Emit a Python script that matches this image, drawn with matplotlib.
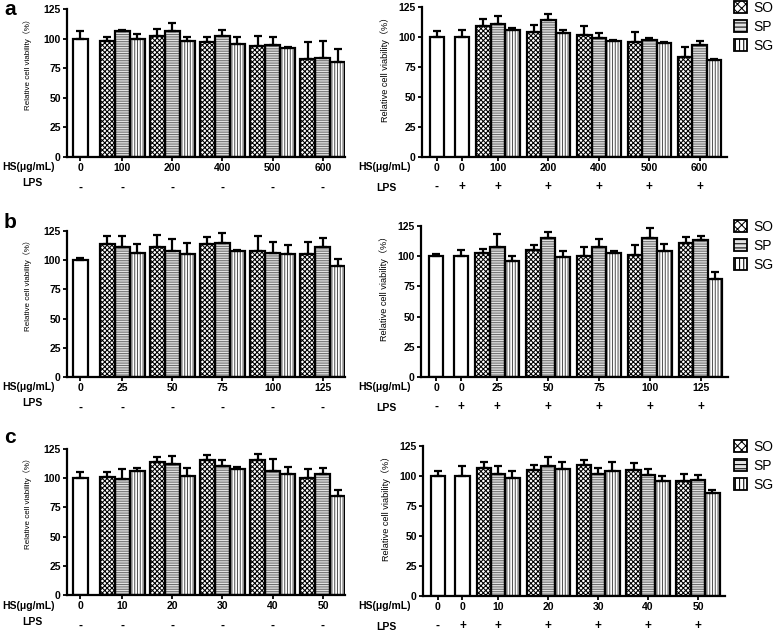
import matplotlib
matplotlib.use("Agg")
import matplotlib.pyplot as plt
from matplotlib.patches import Patch
import numpy as np

plt.rcParams["font.family"] = ["Liberation Sans", "Noto Sans CJK SC", "DejaVu Sans"]
plt.rcParams["hatch.linewidth"] = 0.75

W, H = 778, 632

# ---- data ----
# panel a
a_left_doses = ["0", "100", "200", "400", "500", "600"]
a_left_ctrl = [100]
a_left_ctrl_err = [6]
a_left_so = [98, 102, 97, 94, 83]
a_left_so_err = [3.5, 6, 4, 8, 14]
a_left_sp = [106, 106.5, 102.5, 95, 84]
a_left_sp_err = [1, 7, 5, 6, 14]
a_left_sg = [100, 98, 95.5, 92, 80]
a_left_sg_err = [4, 3.5, 5.5, 0.5, 11]

a_right_doses = ["0", "0", "100", "200", "400", "500", "600"]
a_right_ctrl = [100, 100]
a_right_ctrl_err = [5, 6]
a_right_so = [109, 104, 102, 96, 83]
a_right_so_err = [6, 6, 7.5, 8.5, 9]
a_right_sp = [111, 114, 99, 97.5, 93]
a_right_sp_err = [6.5, 5, 4, 1.5, 4]
a_right_sg = [106, 103, 96.5, 95, 80.5]
a_right_sg_err = [1.5, 3, 1, 1, 1.5]

# panel b
b_left_doses = ["0", "25", "50", "75", "100", "125"]
b_left_ctrl = [100]
b_left_ctrl_err = [2]
b_left_so = [114, 111, 114, 108, 105]
b_left_so_err = [7, 11, 6, 12.5, 11]
b_left_sp = [111, 107.5, 115, 106, 111]
b_left_sp_err = [10, 11, 8.5, 10, 8]
b_left_sg = [106, 105, 108, 105, 95]
b_left_sg_err = [8, 10, 1, 8, 6]

b_right_doses = ["0", "0", "25", "50", "75", "100", "125"]
b_right_ctrl = [100, 100]
b_right_ctrl_err = [2, 5.5]
b_right_so = [103, 105, 100, 101, 111]
b_right_so_err = [3, 4.5, 8, 8, 5]
b_right_sp = [108, 115, 108, 115, 113]
b_right_sp_err = [10, 5, 6, 8, 4]
b_right_sg = [96, 99, 102.5, 104, 81]
b_right_sg_err = [4, 5, 1.5, 6, 6]

# panel c
c_left_doses = ["0", "10", "20", "30", "40", "50"]
c_left_ctrl = [100]
c_left_ctrl_err = [5]
c_left_so = [101, 114, 115.5, 115.5, 100]
c_left_so_err = [4, 4, 4.5, 5.5, 8]
c_left_sp = [99.5, 112, 110.5, 106.5, 104]
c_left_sp_err = [8, 7, 5, 10, 5]
c_left_sg = [106, 102, 107.5, 104, 85]
c_left_sg_err = [3, 6.5, 2, 6, 5]

c_right_doses = ["0", "0", "10", "20", "30", "40", "50"]
c_right_ctrl = [100, 100]
c_right_ctrl_err = [4, 8]
c_right_so = [107, 105, 109, 105, 96]
c_right_so_err = [4.5, 4.5, 4.5, 5.5, 6]
c_right_sp = [102, 108, 102, 101, 97]
c_right_sp_err = [6, 8, 5, 5, 4]
c_right_sg = [98, 106, 104, 96, 86]
c_right_sg_err = [6, 6, 8, 4, 2]

left_lps = ["-", "-", "-", "-", "-", "-"]
right_lps = ["-", "+", "+", "+", "+", "+", "+"]

SERIES = ["SO", "SP", "SG"]
STYLE = {
    "SO": dict(face="white", hatch="xxxxxxx", hcol="black"),
    "SP": dict(face="#e2e2e2", hatch="-------", hcol="#6e6e6e"),
    "SG": dict(face="white", hatch="||||||", hcol="#555555"),
}


def px_rect(x0, x1, top, bottom):
    return [x0 / W, 1 - bottom / H, (x1 - x0) / W, (bottom - top) / H]


def draw_panel(fig, rect, doses, ctrl, ctrl_err, groups, lps, ctrl_pos, g0, gstep,
               xlim, ylabel_size, ylabel_xy, lps_off):
    ax = fig.add_axes(rect)
    n_ctrl = len(ctrl)
    centers = list(ctrl_pos) + [g0 + gstep * k for k in range(len(groups[0][0]))]

    # control bars (white)
    ax.bar(ctrl_pos, ctrl, width=1.0, facecolor="white", edgecolor="black", linewidth=1.6, zorder=2)
    ax.errorbar(ctrl_pos, ctrl, yerr=[np.zeros(n_ctrl), ctrl_err], fmt="none", ecolor="black",
                elinewidth=1.6, capsize=3, capthick=1.6, zorder=3)

    for i, (name, (vals, errs)) in enumerate(zip(SERIES, groups)):
        xs = np.array(centers[n_ctrl:]) + (i - 1)
        st = STYLE[name]
        ax.bar(xs, vals, width=1.0, facecolor=st["face"], hatch=st["hatch"],
               edgecolor=st["hcol"], linewidth=0, zorder=2)
        ax.bar(xs, vals, width=1.0, fill=False, edgecolor="black", linewidth=1.6, zorder=2.5)
        ax.errorbar(xs, vals, yerr=[np.zeros(len(vals)), errs], fmt="none", ecolor="black",
                    elinewidth=1.6, capsize=3, capthick=1.6, zorder=3)

    ax.set_ylim(0, 125)
    ax.set_xlim(*xlim)
    ax.set_yticks([0, 25, 50, 75, 100, 125])
    ax.set_xticks(centers)
    ax.set_xticklabels(doses)
    for lab in ax.get_xticklabels() + ax.get_yticklabels():
        lab.set_fontweight("bold")
    ax.tick_params(axis="both", labelsize=7.5, length=3, width=1.3, pad=1.5)
    for s in ("top", "right"):
        ax.spines[s].set_visible(False)
    for s in ("left", "bottom"):
        ax.spines[s].set_linewidth(1.6)
    ax.set_ylabel("Relative cell viability（%）", fontsize=ylabel_size)
    ax.yaxis.set_label_coords(*ylabel_xy)

    for x, sym in zip(centers, lps):
        ax.annotate(sym, xy=(x, 0), xycoords=("data", "axes fraction"),
                    xytext=(0, -lps_off), textcoords="offset pixels",
                    ha="center", va="center", fontsize=8.5, fontweight="bold")
    return ax


fig = plt.figure(figsize=(W / 100, H / 100), dpi=100)

panels = [
    # (letter, left data, right data, left rect, right rect, letter y, axis bottom y)
    ("a",
     (a_left_doses, a_left_ctrl, a_left_ctrl_err,
      [(a_left_so, a_left_so_err), (a_left_sp, a_left_sp_err), (a_left_sg, a_left_sg_err)]),
     (a_right_doses, a_right_ctrl, a_right_ctrl_err,
      [(a_right_so, a_right_so_err), (a_right_sp, a_right_sp_err), (a_right_sg, a_right_sg_err)]),
     px_rect(67, 345, 9, 157), px_rect(422, 727, 7, 157), 15, 157),
    ("b",
     (b_left_doses, b_left_ctrl, b_left_ctrl_err,
      [(b_left_so, b_left_so_err), (b_left_sp, b_left_sp_err), (b_left_sg, b_left_sg_err)]),
     (b_right_doses, b_right_ctrl, b_right_ctrl_err,
      [(b_right_so, b_right_so_err), (b_right_sp, b_right_sp_err), (b_right_sg, b_right_sg_err)]),
     px_rect(67, 345, 231, 377), px_rect(421, 728, 226, 377), 228, 377),
    ("c",
     (c_left_doses, c_left_ctrl, c_left_ctrl_err,
      [(c_left_so, c_left_so_err), (c_left_sp, c_left_sp_err), (c_left_sg, c_left_sg_err)]),
     (c_right_doses, c_right_ctrl, c_right_ctrl_err,
      [(c_right_so, c_right_so_err), (c_right_sp, c_right_sp_err), (c_right_sg, c_right_sg_err)]),
     px_rect(67, 345, 449, 595), px_rect(423, 725, 446, 596), 443, 596),
]

for letter, left, right, lrect, rrect, let_y, base_y in panels:
    draw_panel(fig, lrect, *left, left_lps, ctrl_pos=[0], g0=2.8, gstep=3.35,
               xlim=(-0.87, 17.67), ylabel_size=5.8, ylabel_xy=(-0.125, 0.64), lps_off=31)
    draw_panel(fig, rrect, *right, right_lps, ctrl_pos=[0, 1.72], g0=4.2, gstep=3.48,
               xlim=(-1.03, 20.0), ylabel_size=6.6, ylabel_xy=(-0.105, 0.6), lps_off=30)

    fig.text(4 / W, 1 - let_y / H, letter, fontsize=15, fontweight="bold", ha="left", va="baseline")
    fig.text(2 / W, 1 - (base_y + 10) / H, "HS(μg/mL)", fontsize=7.5, fontweight="bold",
             ha="left", va="center")
    fig.text(22 / W, 1 - (base_y + 26) / H, "LPS", fontsize=7.5, fontweight="bold",
             ha="left", va="center")
    fig.text(358 / W, 1 - (base_y + 10) / H, "HS(μg/mL)", fontsize=7.5, fontweight="bold",
             ha="left", va="center")
    fig.text(376 / W, 1 - (base_y + 31) / H, "LPS", fontsize=7.5, fontweight="bold",
             ha="left", va="center")

    handles = [Patch(facecolor=STYLE[s]["face"], hatch=STYLE[s]["hatch"][:4],
                     edgecolor="black", linewidth=1.3) for s in SERIES]
    top_px = rrect[1] + rrect[3]
    fig.legend(handles, SERIES, loc="upper left",
               bbox_to_anchor=(734 / W, top_px + 6 / H), frameon=False, fontsize=10,
               handlelength=0.9, handleheight=0.9, handletextpad=0.5, labelspacing=0.35,
               borderaxespad=0, borderpad=0)

fig.savefig("out.png", dpi=100)
